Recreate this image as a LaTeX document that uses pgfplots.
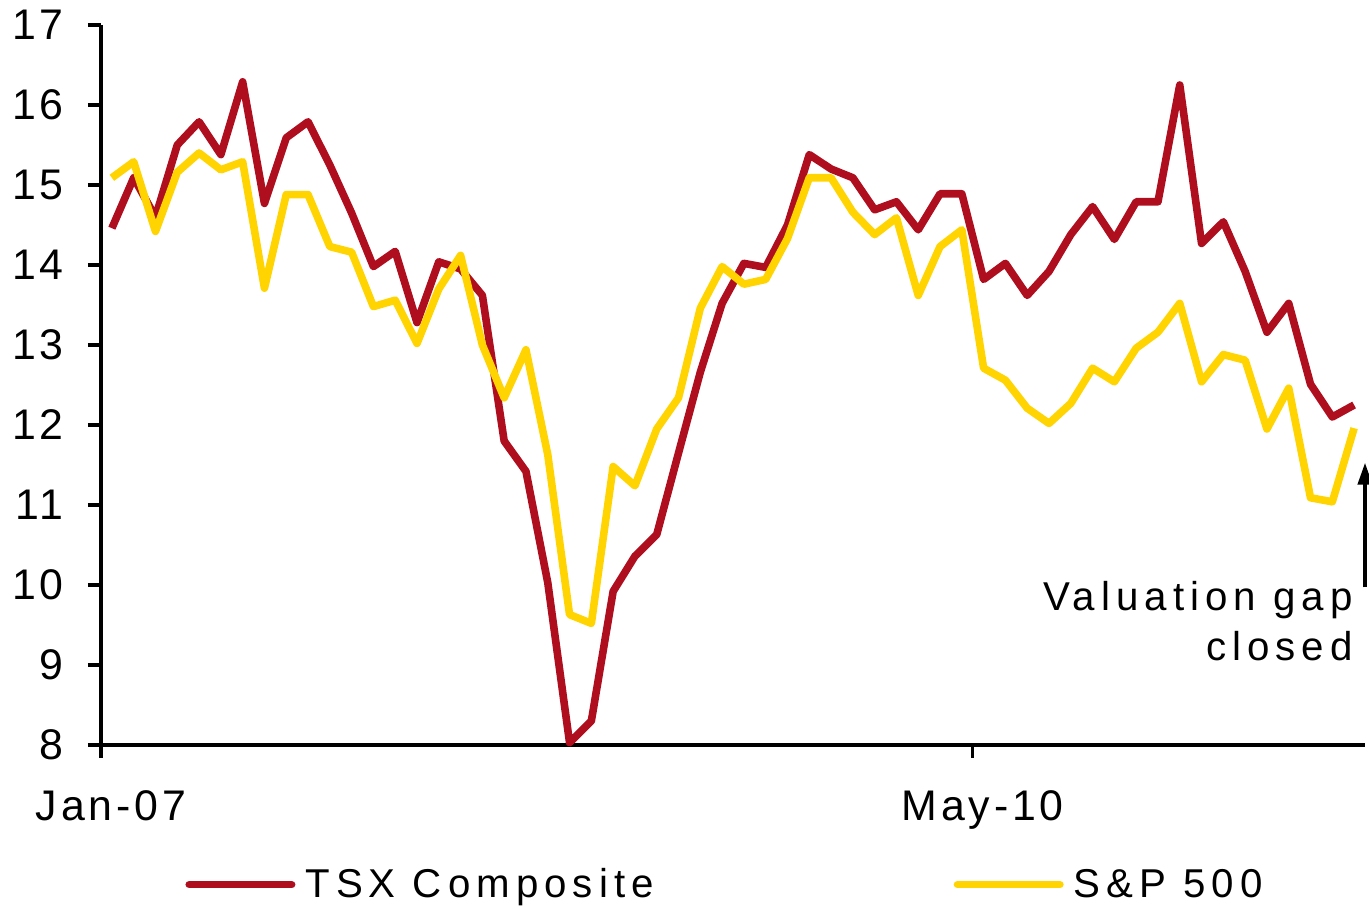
\documentclass[border=0pt]{standalone}
\usepackage{fontspec}
\setmainfont{Liberation Sans}[LetterSpace=15]
\newfontfamily\tickfont{Liberation Sans}[LetterSpace=9]
\usepackage{pgfplots}
\pgfplotsset{compat=1.18}
\usetikzlibrary{arrows.meta}
\definecolor{tsxred}{RGB}{175,14,30}
\definecolor{spyellow}{RGB}{255,212,0}

% monthly P/E, Jan-07 .. Oct-11 (index 0..57)
\pgfplotstableread{
i tsx sp
0 14.46 15.09
1 15.09 15.29
2 14.60 14.42
3 15.50 15.16
4 15.79 15.40
5 15.38 15.19
6 16.29 15.29
7 14.77 13.71
8 15.59 14.88
9 15.79 14.88
10 15.25 14.23
11 14.65 14.16
12 13.98 13.48
13 14.17 13.56
14 13.28 13.02
15 14.04 13.70
16 13.95 14.12
17 13.62 13.00
18 11.80 12.34
19 11.42 12.94
20 10.03 11.63
21 8.03 9.63
22 8.30 9.52
23 9.92 11.48
24 10.36 11.24
25 10.63 11.95
26 11.65 12.34
27 12.66 13.46
28 13.52 13.98
29 14.02 13.76
30 13.97 13.82
31 14.50 14.33
32 15.38 15.09
33 15.20 15.09
34 15.09 14.66
35 14.69 14.38
36 14.79 14.59
37 14.44 13.62
38 14.89 14.23
39 14.89 14.44
40 13.82 12.71
41 14.02 12.56
42 13.62 12.21
43 13.92 12.02
44 14.38 12.27
45 14.73 12.71
46 14.32 12.54
47 14.79 12.96
48 14.79 13.16
49 16.25 13.52
50 14.27 12.54
51 14.54 12.88
52 13.92 12.81
53 13.16 11.95
54 13.52 12.46
55 12.51 11.09
56 12.10 11.04
57 12.25 11.96
}\pe

\begin{document}
\begin{tikzpicture}
\begin{axis}[
  width=632bp, height=360bp, scale only axis,
  xmin=-0.5, xmax=57.5, ymin=8, ymax=17,
  axis lines*=left,
  axis line style={line width=1.6bp},
  every tick/.style={black, line width=1.6bp},
  tick align=outside,
  major tick length=6.5bp,
  xtick={-0.5,39.5}, xticklabels={Jan-07,May-10},
  ytick={8,...,17},
  /pgf/number format/assume math mode=true,
  tick label style={font=\fontsize{21.5}{21.5}\selectfont\tickfont},
  xticklabel style={anchor=north, inner sep=0pt, xshift=5bp, yshift=-16bp},
  yticklabel style={anchor=east, inner sep=0pt, xshift=-12bp},
  clip=false,
  legend columns=2,
  legend style={draw=none, fill=none, at={(0.0665,-0.194)}, anchor=west,
    inner sep=0pt, nodes={inner sep=0pt, font=\fontsize{20.2}{20.2}\selectfont},
    /tikz/every odd column/.append style={column sep=5bp},
    /tikz/every even column/.append style={column sep=150bp}},
  legend image code/.code={\draw[#1, line width=3.8bp, line cap=round] (1.9bp,0bp) -- (53.1bp,0bp);},
]
\addplot[tsxred, line width=3.8bp, line join=round] table[x=i, y=tsx] {\pe};
\addlegendentry{TSX Composite}
\addplot[spyellow, line width=3.8bp, line join=round] table[x=i, y=sp] {\pe};
\addlegendentry{S\&P 500}

\draw[line width=2bp, -{Triangle[width=7bp, length=11bp]}] (axis cs:57.5,9.97) -- (axis cs:57.5,11.53);
\node[anchor=base east, align=right, inner sep=0pt, font=\fontsize{20.2}{25}\selectfont]
  at (axis cs:56.95,9.06) {Valuation gap\\closed};

\coordinate (bl) at (rel axis cs:0,0);
\coordinate (tr) at (rel axis cs:1,1);
\end{axis}
\pgfresetboundingbox
\path[use as bounding box] ([shift={(-50.5bp,-83bp)}]bl) rectangle ([shift={(2bp,12.5bp)}]tr);
\end{tikzpicture}
\end{document}
